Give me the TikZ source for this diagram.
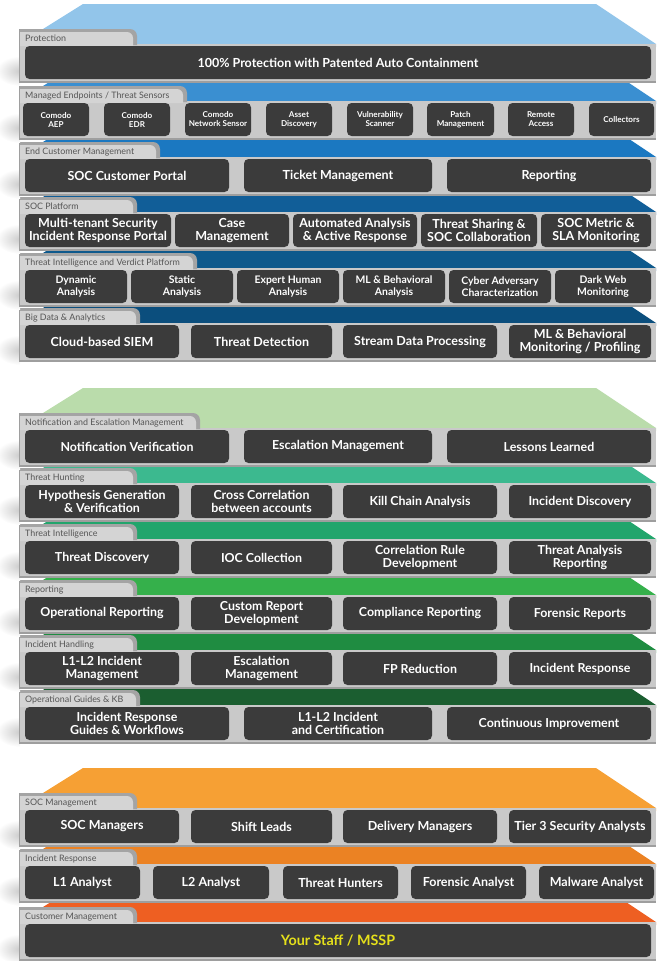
\documentclass[tikz,border=0pt]{standalone}
\usepackage{fontspec}
\setmainfont{Lato}
\definecolor{bA}{HTML}{92C5EA}
\definecolor{bB}{HTML}{3A8FD1}
\definecolor{bC}{HTML}{1B78C1}
\definecolor{bD}{HTML}{115E98}
\definecolor{bE}{HTML}{0E598C}
\definecolor{bF}{HTML}{0B4E7D}
\definecolor{gA}{HTML}{BADCAB}
\definecolor{gB}{HTML}{3CB98F}
\definecolor{gC}{HTML}{22A56C}
\definecolor{gD}{HTML}{35B04B}
\definecolor{gE}{HTML}{1F8C41}
\definecolor{gF}{HTML}{1B5E30}
\definecolor{oA}{HTML}{F6A034}
\definecolor{oB}{HTML}{EB8223}
\definecolor{oC}{HTML}{EE5F22}
\definecolor{boxgray}{HTML}{3B3B3B}
\definecolor{bandgray}{HTML}{C9C9C9}
\definecolor{bandedge}{HTML}{9E9E9E}
\definecolor{tabdark}{HTML}{A4A4A4}
\definecolor{tablight}{HTML}{D4D4D4}
\definecolor{lblgray}{HTML}{555555}
\definecolor{yel}{HTML}{E5E01B}
\tikzset{
  bx/.style={fill=boxgray, rounded corners=4.5pt, text=white, align=center, inner sep=0pt},
  fXL/.style={font=\bfseries\fontsize{14.3}{16}\selectfont},
  fL/.style={font=\bfseries\fontsize{12.5}{13.2}\selectfont},
  fG/.style={font=\bfseries\fontsize{12.4}{13.6}\selectfont},
  fM/.style={font=\bfseries\fontsize{12.5}{13}\selectfont},
  fS/.style={font=\bfseries\fontsize{10.4}{12.2}\selectfont},
  fXS/.style={font=\bfseries\fontsize{8.1}{9}\selectfont},
  tablbl/.style={anchor=west, text=lblgray, inner sep=0pt, font=\fontsize{8.9}{9}\selectfont},
}
% #1 T, #2 tab right, #3 slab colour, #4 label name, #5 label
\newcommand{\lyr}[5]{%
  \fill[#3] (83,#1-25) -- (596,#1-25) -- (656,#1+15) -- (656,#1+18) -- (43,#1+18) -- (43,#1) -- cycle;
  \begin{scope}
    \clip (0,#1+12) rectangle (20,#1+62);
    \shade[inner color=black!20, outer color=white] (20,#1+42) ellipse [x radius=24, y radius=15];
  \end{scope}
  \fill[bandgray] (20,#1+15) rectangle (656,#1+53);
  \fill[bandedge] (20,#1+52) rectangle (656,#1+54);
  \fill[tabdark] (19,#1+16) -- (19,#1) -- ({#2-7},#1) arc[start angle=-90,end angle=0,radius=7] -- (#2,#1+16) -- cycle;
  \fill[tablight] (20,#1+17) -- (20,#1+3) -- ({#2-10},#1+3) arc[start angle=-90,end angle=0,radius=6] -- (#2-4,#1+17) -- cycle;
  \fill[bandedge] (19,#1) rectangle (20,#1+54);
  \node[tablbl] (#4) at (25,#1+9.7) {#5};
}
% #1 name, #2 x1, #3 x2, #4 T, #5 style, #6 text
\newcommand{\bx}[6]{\node[bx,#5,minimum width={(#3-#2)*1pt},minimum height=33pt] (#1) at ({(#2+#3)/2},{#4+33.5}) {#6};}
\begin{document}
\begin{tikzpicture}[x=1pt,y=-1pt]
\useasboundingbox (0,0) rectangle (656,961);
% ================= GROUP 1 (blue) =================
\lyr{308}{140}{bF}{lBig}{Big Data \& Analytics}
\bx{bd1}{25}{179}{308}{fL}{Cloud-based SIEM}
\bx{bd2}{191}{332}{308}{fL}{Threat Detection}
\bx{bd3}{343}{497}{308}{fL}{Stream Data Processing}
\bx{bd4}{509}{651}{308}{fL}{ML \& Behavioral\\Monitoring / Profiling}
\lyr{253}{197}{bE}{lTI}{Threat Intelligence and Verdict Platform}
\bx{ti1}{25}{127}{253}{fS}{Dynamic\\Analysis}
\bx{ti2}{131}{233}{253}{fS}{Static\\Analysis}
\bx{ti3}{237}{339}{253}{fS}{Expert Human\\Analysis}
\bx{ti4}{343}{445}{253}{fS}{ML \& Behavioral\\Analysis}
\bx{ti5}{449}{551}{253}{fS}{Cyber Adversary\\Characterization}
\bx{ti6}{555}{651}{253}{fS}{Dark Web\\Monitoring}
\lyr{197}{137}{bD}{lSOC}{SOC Platform}
\bx{sp1}{25}{171}{197}{fL}{Multi-tenant Security\\Incident Response Portal}
\bx{sp2}{175}{289}{197}{fL}{Case\\Management}
\bx{sp3}{293}{417}{197}{fL}{Automated Analysis\\\& Active Response}
\bx{sp4}{421}{537}{197}{fL}{Threat Sharing \&\\SOC Collaboration}
\bx{sp5}{541}{651}{197}{fL}{SOC Metric \&\\SLA Monitoring}
\lyr{142}{160}{bC}{lEnd}{End Customer Management}
\bx{ec1}{25}{229}{142}{fL}{SOC Customer Portal}
\bx{ec2}{244}{432}{142}{fL}{Ticket Management}
\bx{ec3}{447}{651}{142}{fL}{Reporting}
\lyr{86}{187}{bB}{lMan}{Managed Endpoints / Threat Sensors}
\bx{me1}{23}{89}{86}{fXS}{Comodo\\AEP}
\bx{me2}{104}{170}{86}{fXS}{Comodo\\EDR}
\bx{me3}{185}{251}{86}{fXS}{Comodo\\Network Sensor}
\bx{me4}{266}{332}{86}{fXS}{Asset\\Discovery}
\bx{me5}{347}{413}{86}{fXS}{Vulnerability\\Scanner}
\bx{me6}{427}{494}{86}{fXS}{Patch\\Management}
\bx{me7}{508}{574}{86}{fXS}{Remote\\Access}
\bx{me8}{589}{654}{86}{fXS}{Collectors}
\lyr{29}{137}{bA}{lPro}{Protection}
\bx{pr1}{25}{651}{29}{fM}{100\% Protection with Patented Auto Containment}
% ================= GROUP 2 (green) =================
\lyr{690}{140}{gF}{lOG}{Operational Guides \& KB}
\bx{og1}{25}{229}{690}{fG}{Incident Response\\Guides \& Workflows}
\bx{og2}{244}{432}{690}{fG}{L1-L2 Incident\\and Certification}
\bx{og3}{447}{651}{690}{fG}{Continuous Improvement}
\lyr{635}{137}{gE}{lIH}{Incident Handling}
\bx{ih1}{25}{179}{635}{fG}{L1-L2 Incident\\Management}
\bx{ih2}{191}{332}{635}{fG}{Escalation\\Management}
\bx{ih3}{343}{497}{635}{fG}{FP Reduction}
\bx{ih4}{509}{651}{635}{fG}{Incident Response}
\lyr{580}{137}{gD}{lRep}{Reporting}
\bx{rp1}{25}{179}{580}{fG}{Operational Reporting}
\bx{rp2}{191}{332}{580}{fG}{Custom Report\\Development}
\bx{rp3}{343}{497}{580}{fG}{Compliance Reporting}
\bx{rp4}{509}{651}{580}{fG}{Forensic Reports}
\lyr{524}{137}{gC}{lTInt}{Threat Intelligence}
\bx{tn1}{25}{179}{524}{fG}{Threat Discovery}
\bx{tn2}{191}{332}{524}{fG}{IOC Collection}
\bx{tn3}{343}{497}{524}{fG}{Correlation Rule\\Development}
\bx{tn4}{509}{651}{524}{fG}{Threat Analysis\\Reporting}
\lyr{468}{137}{gB}{lTH}{Threat Hunting}
\bx{th1}{25}{179}{468}{fG}{Hypothesis Generation\\\& Verification}
\bx{th2}{191}{332}{468}{fG}{Cross Correlation\\between accounts}
\bx{th3}{343}{497}{468}{fG}{Kill Chain Analysis}
\bx{th4}{509}{651}{468}{fG}{Incident Discovery}
\lyr{413}{200}{gA}{lNot}{Notification and Escalation Management}
\bx{ne1}{25}{229}{413}{fG}{Notification Verification}
\bx{ne2}{244}{432}{413}{fG}{Escalation Management}
\bx{ne3}{447}{651}{413}{fG}{Lessons Learned}
% ================= GROUP 3 (orange) =================
\lyr{907}{137}{oC}{lCM}{Customer Management}
\bx{cm1}{25}{651}{907}{fXL,text=yel}{Your Staff / MSSP}
\lyr{849}{137}{oB}{lIR}{Incident Response}
\bx{ir1}{25}{140}{849}{fL}{L1 Analyst}
\bx{ir2}{153}{269}{849}{fL}{L2 Analyst}
\bx{ir3}{283}{398}{849}{fL}{Threat Hunters}
\bx{ir4}{411}{526}{849}{fL}{Forensic Analyst}
\bx{ir5}{539}{654}{849}{fL}{Malware Analyst}
\lyr{793}{137}{oA}{lSM}{SOC Management}
\bx{sm1}{25}{179}{793}{fL}{SOC Managers}
\bx{sm2}{191}{332}{793}{fL}{Shift Leads}
\bx{sm3}{343}{497}{793}{fL}{Delivery Managers}
\bx{sm4}{509}{651}{793}{fL}{Tier 3 Security Analysts}
\end{tikzpicture}
\end{document}
